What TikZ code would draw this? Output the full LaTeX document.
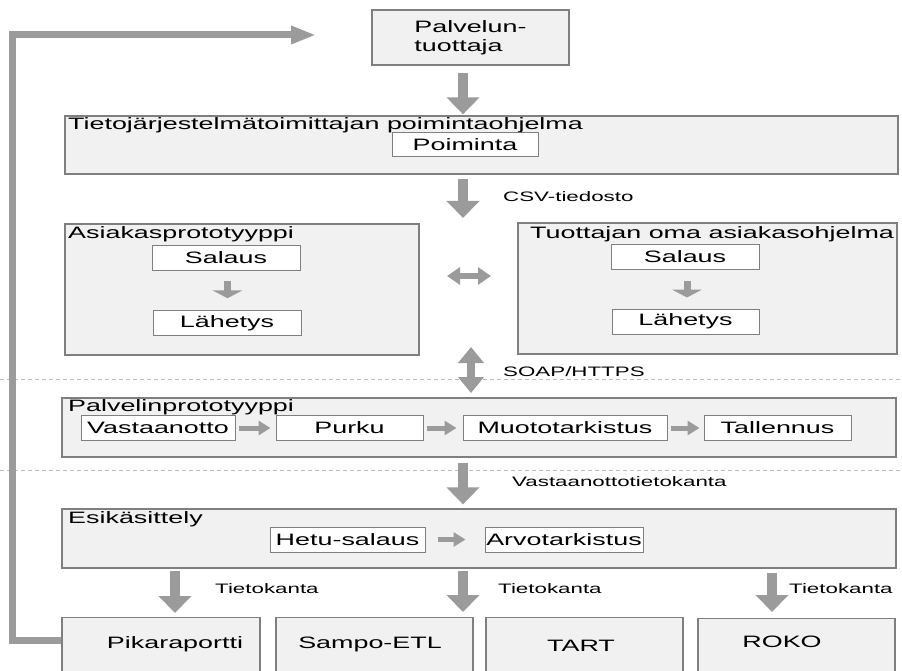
\documentclass[tikz,border=0pt]{standalone}
\usepackage{fontspec}
\setmainfont{Liberation Sans}[FakeStretch=1.63]
\usetikzlibrary{arrows.meta}
\definecolor{boxfill}{HTML}{F1F1F1}
\definecolor{boxline}{HTML}{7F7F7F}
\definecolor{arrgray}{HTML}{9B9B9B}
\definecolor{dashgray}{HTML}{BDBDBD}
\newcommand\mainfs{\fontsize{16.5}{19}\selectfont}
\newcommand\lblfs{\fontsize{13.7}{16}\selectfont}
\tikzset{
 bigbox/.style={draw=boxline, fill=boxfill, line width=1.3pt, inner sep=0pt, rectangle},
 innerbox/.style={draw=boxline, fill=white, line width=1pt, inner sep=0pt, minimum height=24.5pt, font=\mainfs},
 titletext/.style={inner sep=0pt, anchor=base west, font=\mainfs},
 lbltext/.style={inner sep=0pt, anchor=base west, font=\lblfs},
 boxlabel/.style={inner sep=0pt, anchor=base, font=\mainfs},
 bigarrow/.style={draw=arrgray, color=arrgray, line width=10pt, -{Triangle[length=17pt,width=32pt]}},
 smallarrow/.style={draw=arrgray, color=arrgray, line width=7pt, -{Triangle[length=8pt,width=30pt]}},
 harrow/.style={draw=arrgray, color=arrgray, line width=5pt, -{Triangle[length=12pt,width=14pt]}},
 dblharrow/.style={draw=arrgray, color=arrgray, line width=6pt, {Triangle[length=13pt,width=17pt]}-{Triangle[length=13pt,width=17pt]}},
 dblvarrow/.style={draw=arrgray, color=arrgray, line width=8pt, {Triangle[length=16pt,width=25pt]}-{Triangle[length=16pt,width=25pt]}},
 looparrow/.style={draw=arrgray, color=arrgray, line width=7pt, line join=miter, -{Triangle[length=25pt,width=17pt]}},
 dashline/.style={draw=dashgray, line width=0.9pt, dash pattern=on 4pt off 3pt},
}
\begin{document}
\begin{tikzpicture}[x=1pt,y=-1pt]
\useasboundingbox (0,0) rectangle (902,671);
\clip (0,0) rectangle (902,671);
\fill[white] (0,0) rectangle (902,671);

% dashed separators
\draw[dashline] (0,379) -- (902,379);
\draw[dashline] (0,470) -- (902,470);

% Palveluntuottaja
\node[bigbox, minimum width=197pt, minimum height=55pt, align=left, font=\mainfs] (prod) at (470.5,37.5) {Palvelun-\\tuottaja};

% Tietojarjestelmatoimittajan poimintaohjelma
\node[bigbox, minimum width=833pt, minimum height=58pt] (tj) at (481.5,145) {};
\node[titletext] (tjt) at (68,130) {Tietojärjestelmätoimittajan poimintaohjelma};
\node[innerbox, minimum width=146pt] (poim) at (465,144.5) {Poiminta};

% Asiakasprototyyppi
\node[bigbox, minimum width=354pt, minimum height=131pt] (asp) at (242,289.5) {};
\node[titletext] (aspt) at (68,238) {Asiakasprototyyppi};
\node[innerbox, minimum width=148pt] (sal1) at (226,258) {Salaus};
\node[innerbox, minimum width=148pt] (lah1) at (227,323) {Lähetys};

% Tuottajan oma asiakasohjelma
\node[bigbox, minimum width=379pt, minimum height=131pt] (toa) at (707.5,288.5) {};
\node[titletext] (toat) at (530,238) {Tuottajan oma asiakasohjelma};
\node[innerbox, minimum width=148pt, minimum height=25pt] (sal2) at (685,256.5) {Salaus};
\node[innerbox, minimum width=147pt, minimum height=25pt] (lah2) at (685.5,321.5) {Lähetys};

% Palvelinprototyyppi
\node[bigbox, minimum width=834pt, minimum height=59pt] (pp) at (479,427.5) {};
\node[titletext] (ppt) at (68,411) {Palvelinprototyyppi};
\node[innerbox, minimum width=154pt] (vast) at (158,428) {Vastaanotto};
\node[innerbox, minimum width=147pt] (purku) at (349.5,428) {Purku};
\node[innerbox, minimum width=204pt] (muoto) at (565,428) {Muototarkistus};
\node[innerbox, minimum width=147pt] (tall) at (777.5,428) {Tallennus};

% Esikasittely
\node[bigbox, minimum width=834pt, minimum height=59pt] (esi) at (479,538.5) {};
\node[titletext] (esit) at (68,523) {Esikäsittely};
\node[innerbox, minimum width=155pt, minimum height=25pt] (hetu) at (347.5,539.5) {Hetu-salaus};
\node[innerbox, minimum width=158pt, minimum height=25pt] (arvo) at (564,539.5) {Arvotarkistus};

% bottom boxes
\node[bigbox, minimum width=198pt, minimum height=103pt, anchor=north] (pik) at (161,617) {};
\node[bigbox, minimum width=197pt, minimum height=103pt, anchor=north] (sampo) at (374.5,617) {};
\node[bigbox, minimum width=197pt, minimum height=103pt, anchor=north] (tart) at (584.5,617) {};
\node[bigbox, minimum width=197pt, minimum height=103pt, anchor=north] (roko) at (796.5,618) {};
\node[boxlabel] (pikt) at (175,648) {Pikaraportti};
\node[boxlabel] (sampot) at (370,648) {Sampo-ETL};
\node[boxlabel] (tartt) at (581,651) {TART};
\node[boxlabel] (rokot) at (782,647) {ROKO};

% coordinates for free ends
\coordinate (csvend) at (463,218);
\coordinate (dl) at (447,276);
\coordinate (dr) at (491,276);
\coordinate (soapt) at (471,347);
\coordinate (soapb) at (471,393);
\coordinate (loopc) at (12.5,35);
\coordinate (loopend) at (316,35);

% arrows
\draw[bigarrow, shorten <=7pt, shorten >=1pt] ([xshift=-7.5pt]prod.south) -- ([xshift=-18.5pt]tj.north);
\draw[bigarrow, shorten <=4pt] ([xshift=-18.5pt]tj.south) -- (csvend);
\node[lbltext] (csvl) at (503,202) {CSV-tiedosto};

\draw[smallarrow, shorten <=10pt, shorten >=12pt] ([xshift=1.5pt]sal1.south) -- ([xshift=0.5pt]lah1.north);
\draw[smallarrow, shorten <=11pt, shorten >=11pt] ([xshift=2pt]sal2.south) -- ([xshift=1.5pt]lah2.north);

\draw[dblharrow] (dl) -- (dr);
\draw[dblvarrow] (soapt) -- (soapb);
\node[lbltext] (soapl) at (503,376) {SOAP/HTTPS};

\draw[harrow, shorten <=3pt, shorten >=5pt] (vast.east) -- (purku.west);
\draw[harrow, shorten <=3pt, shorten >=6pt] (purku.east) -- (muoto.west);
\draw[harrow, shorten <=3pt, shorten >=4pt] (muoto.east) -- (tall.west);

\draw[bigarrow, shorten <=5pt, shorten >=4pt] ([xshift=-16pt]pp.south) -- ([xshift=-16pt]esi.north);
\node[lbltext] (vdbl) at (512,486) {Vastaanottotietokanta};

\draw[harrow, shorten <=12pt, shorten >=19pt] (hetu.east) -- (arvo.west);

\draw[bigarrow, shorten <=2pt, shorten >=4pt] ([xshift=-304pt]esi.south) -- ([xshift=14pt]pik.north);
\draw[bigarrow, shorten <=2pt, shorten >=5pt] ([xshift=-16pt]esi.south) -- ([xshift=88.5pt]sampo.north);
\draw[bigarrow, shorten <=4pt, shorten >=6pt] ([xshift=293pt]esi.south) -- ([xshift=-24.5pt]roko.north);
\node[lbltext] (tk1) at (215,593) {Tietokanta};
\node[lbltext] (tk2) at (498,593) {Tietokanta};
\node[lbltext] (tk3) at (789,593) {Tietokanta};

% feedback loop
\draw[looparrow] ([yshift=28.5pt]pik.west) -| (loopc) -- (loopend);
\end{tikzpicture}
\end{document}
